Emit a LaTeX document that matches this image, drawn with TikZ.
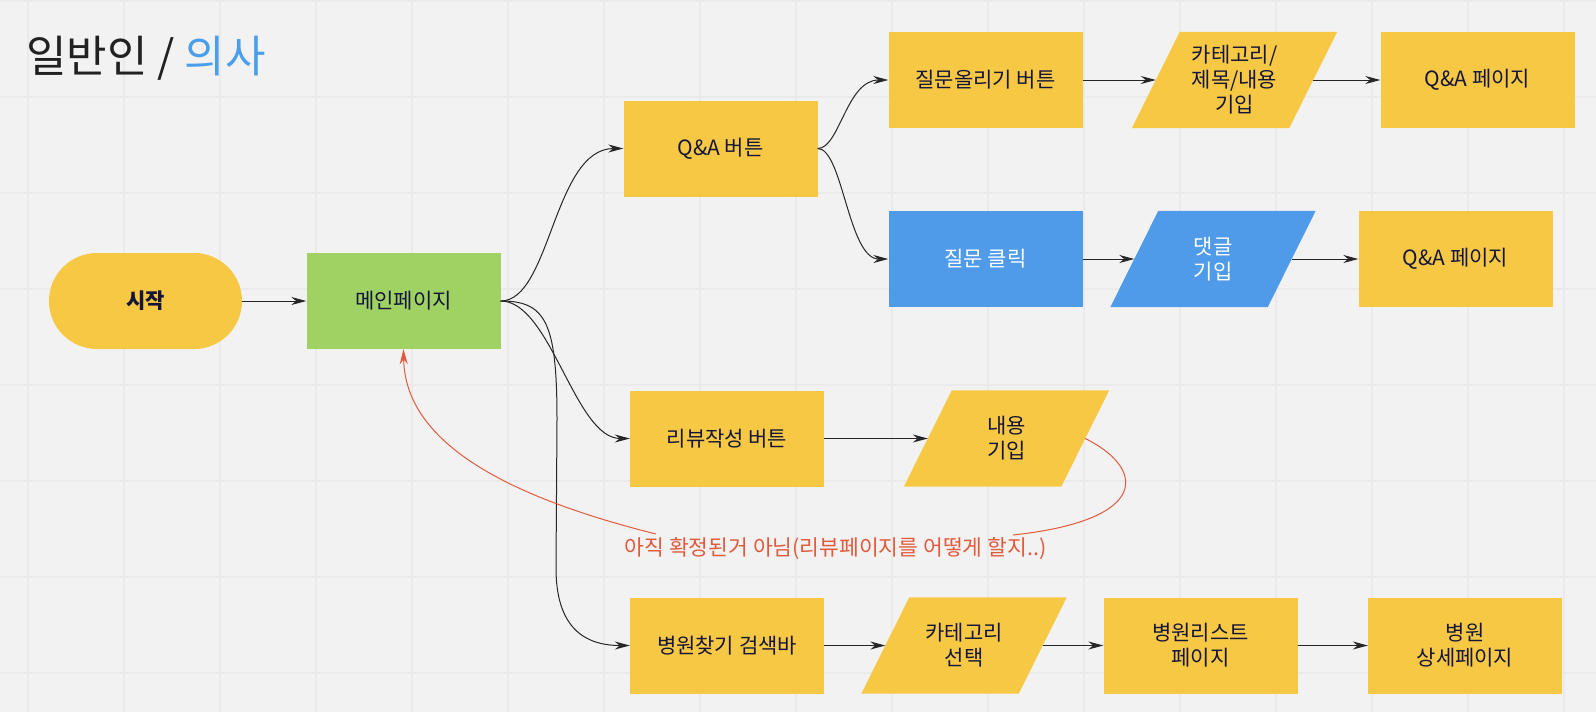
\documentclass[tikz,border=0pt]{standalone}
\usepackage{fontspec}
\setmainfont{Noto Sans CJK KR}
\usepackage{xcolor}
\usepackage{tikz}
\usetikzlibrary{arrows.meta}

\definecolor{boxyellow}{HTML}{F6C843}
\definecolor{boxgreen}{HTML}{9FD163}
\definecolor{boxblue}{HTML}{4F9BE9}
\definecolor{textnavy}{HTML}{15153A}
\definecolor{notered}{HTML}{E25A3C}
\definecolor{titleblue}{HTML}{4A9FEA}
\definecolor{gridgray}{HTML}{EAEAEA}
\definecolor{paper}{HTML}{F2F2F2}

\pgfdeclarelayer{paperlayer}
\pgfsetlayers{paperlayer,main}

\begin{document}
\begin{tikzpicture}[x=1pt,y=-1pt,
  every node/.style={font=\fontsize{21pt}{25pt}\selectfont,text=textnavy,align=center},
  yellowbox/.style={rectangle,fill=boxyellow,minimum width=194pt,minimum height=96pt},
  bluebox/.style={yellowbox,fill=boxblue,text=white},
  greenbox/.style={yellowbox,fill=boxgreen},
  datanode/.style={rectangle,minimum width=157pt,minimum height=96pt},
  bluedata/.style={datanode,text=white},
  arr/.style={-{Stealth[length=15pt,width=8pt]},line width=1pt,black!85},
  notearr/.style={-{Stealth[length=15pt,width=8pt]},line width=1pt,notered}]
  \useasboundingbox (0,0) rectangle (1596,712);
  \begin{pgfonlayer}{paperlayer}
    \fill[paper] (0,0) rectangle (1596,712);
    \foreach \x in {28,124,...,1564}
      \draw[gridgray,line width=1.3pt] (\x,0) -- (\x,712);
    \foreach \y in {1,97,...,673}
      \draw[gridgray,line width=1.3pt] (0,\y) -- (1596,\y);
  \end{pgfonlayer}

  \node[anchor=base west,inner sep=0pt,font=\fontsize{44pt}{52pt}\selectfont,text=black!87] (title)
    at (26,72) {일반인 / \textcolor{titleblue}{의사}};

  \node[yellowbox,rounded corners=48pt,minimum width=193pt,font=\fontsize{21pt}{25pt}\selectfont\bfseries] (start) at (145.5,301) {시작};
  \node[greenbox] (main) at (403.5,301) {메인페이지};

  \node[yellowbox] (qa) at (720.5,148.5) {Q\&A 버튼};
  \node[yellowbox] (ask) at (985.5,80) {질문올리기 버튼};
  \node[datanode] (askin) at (1234.5,80) {카테고리/\\제목/내용\\기입};
  \node[yellowbox] (qapage) at (1477.5,80) {Q\&A 페이지};
  \node[bluebox] (click) at (985.5,259) {질문 클릭};
  \node[bluedata] (reply) at (1213,259) {댓글\\기입};
  \node[yellowbox] (qapageb) at (1455.5,259) {Q\&A 페이지};

  \node[yellowbox] (review) at (727,438.5) {리뷰작성 버튼};
  \node[datanode] (reviewin) at (1006.5,438.5) {내용\\기입};

  \node[yellowbox] (search) at (727,645.5) {병원찾기 검색바};
  \node[datanode] (cat) at (964,645.5) {카테고리\\선택};
  \node[yellowbox] (list) at (1200.5,645.5) {병원리스트\\페이지};
  \node[yellowbox] (detail) at (1465,645.5) {병원\\상세페이지};

  \begin{pgfonlayer}{paperlayer}
    \foreach \n/\c in {askin/boxyellow,reply/boxblue,reviewin/boxyellow,cat/boxyellow}
      \fill[\c] ([xshift=-24pt]\n.south west) -- ([xshift=24pt]\n.north west)
        -- ([xshift=24pt]\n.north east) -- ([xshift=-24pt]\n.south east) -- cycle;
  \end{pgfonlayer}

  \node[text=notered,font=\fontsize{21.5pt}{25pt}\selectfont] (note) at (835.5,549)
    {아직 확정된거 아님(리뷰페이지를 어떻게 할지..)};
  \coordinate (noteR) at (1013,535);
  \coordinate (noteL) at (656,534);

  \draw[arr] (start) -- (main);
  \draw[arr] (main.east) .. controls +(50,0) and +(-70,0) .. (qa.west);
  \draw[arr] (main.east) .. controls +(50,0) and +(-55,0) .. (review.west);
  \draw[arr] (main.east) .. controls +(45,0) and (557,322) .. (557,420)
    -- (556,568) .. controls (556,628) and +(-45,0) .. (search.west);
  \draw[arr] (qa.east) .. controls +(22,0) and +(-42,0) .. (ask.west);
  \draw[arr] (qa.east) .. controls +(25,0) and +(-40,0) .. (click.west);
  \draw[arr] (ask) -- (askin);
  \draw[arr] (askin) -- (qapage);
  \draw[arr] (click) -- (reply);
  \draw[arr] (reply) -- (qapageb);
  \draw[arr] (review) -- (reviewin);
  \draw[arr] (search) -- (cat);
  \draw[arr] (cat) -- (list);
  \draw[arr] (list) -- (detail);

  \draw[notered,line width=1pt] (reviewin.east) .. controls (1145,468) and (1152,520) .. (noteR);
  \draw[notearr] (noteL) .. controls (500,495) and (405,440) .. (main.south);
\end{tikzpicture}
\end{document}
